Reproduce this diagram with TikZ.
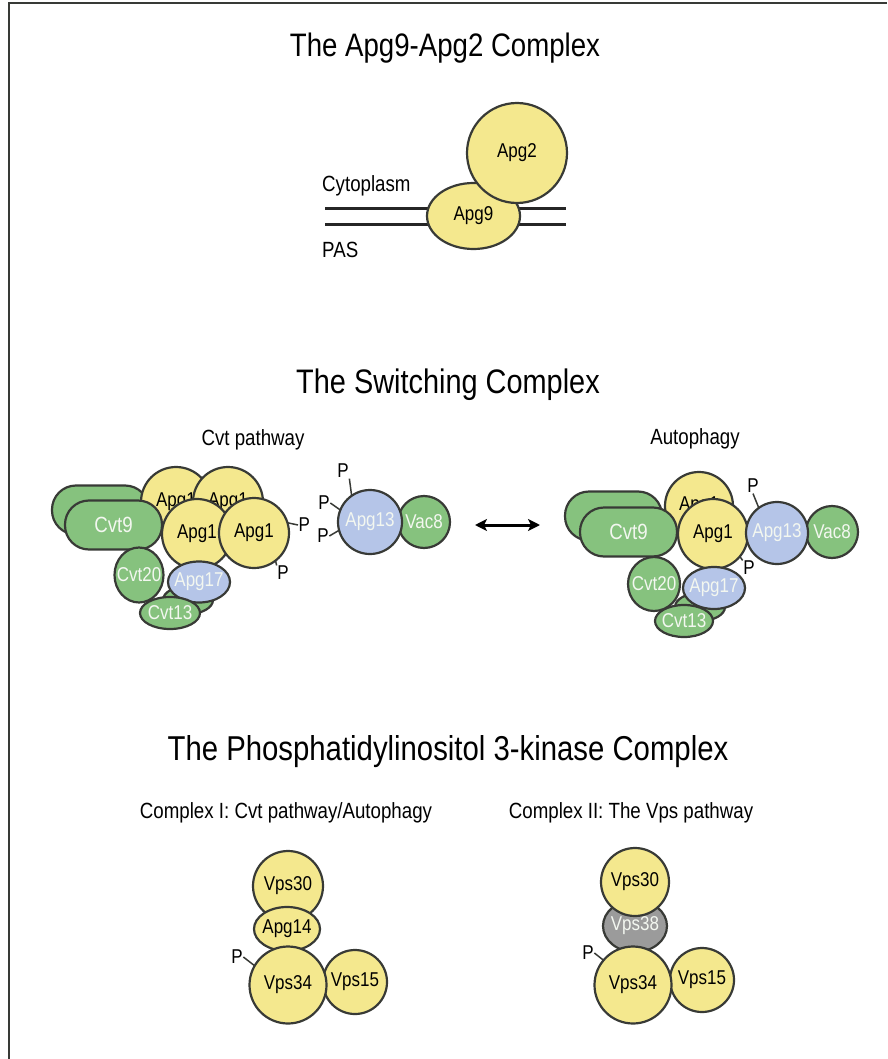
\documentclass[tikz,border=0pt]{standalone}
\usepackage{fontspec}
\setmainfont{Liberation Sans}[FakeStretch=0.85]
\usetikzlibrary{shapes.geometric,arrows.meta}
\definecolor{outline}{HTML}{383A36}
\definecolor{protyellow}{HTML}{F4E88E}
\definecolor{protgreen}{HTML}{86C27E}
\definecolor{protblue}{HTML}{B5C5E8}
\definecolor{protgray}{HTML}{9B9B9B}
\definecolor{paletext}{HTML}{F3F7F0}
\begin{document}
\begin{tikzpicture}[x=1pt,y=-1pt,
  prot/.style={draw=outline,line width=2.2pt,inner sep=0pt,outer sep=0pt},
  yel/.style={prot,fill=protyellow},
  grn/.style={prot,fill=protgreen},
  blu/.style={prot,fill=protblue},
  gry/.style={prot,fill=protgray},
  disc/.style={circle,minimum size=#1},
  oval/.style 2 args={ellipse,minimum width=#1,minimum height=#2},
  pill/.style={rectangle,rounded corners=24pt,minimum width=97pt,minimum height=49pt},
  darklab/.style={font=\fontsize{20}{20}\selectfont,text=black,inner sep=0pt},
  lightlab/.style={font=\fontsize{20}{20}\selectfont,text=paletext,inner sep=0pt},
  dark/.style={label={[darklab]center:#1}},
  light/.style={label={[lightlab]center:#1}},
  biglight/.style={label={[lightlab,font=\fontsize{22}{22}\selectfont]center:#1}},
  title/.style={font=\fontsize{32.5}{32.5}\selectfont,anchor=base,inner sep=0pt},
  caption/.style={font=\fontsize{22}{22}\selectfont,anchor=base,inner sep=0pt},
  phos/.style={font=\fontsize{20}{20}\selectfont,inner sep=0.5pt},
  plink/.style={draw=outline,line width=1.5pt},
  membrane/.style={draw=black!85,line width=3pt},
]
\useasboundingbox (0,0) rectangle (887,1059);
% frame along the top and left edges
\draw[outline,line width=2pt] (8.5,1059) -- (8.5,3.5) -- (887,3.5);

% ---------------- The Apg9-Apg2 complex ----------------
\node[title] (t1) at (445,57) {The Apg9-Apg2 Complex};
\coordinate (m1l) at (325,209); \coordinate (m1r) at (566,209);
\coordinate (m2l) at (325,225); \coordinate (m2r) at (566,225);
\draw[membrane] (m1l) -- (m1r);
\draw[membrane] (m2l) -- (m2r);
\node[caption,anchor=base west] (cyto) at (322,192) {Cytoplasm};
\node[caption,anchor=base west] (pas) at (322,257) {PAS};
\node[yel,oval={93pt}{66pt},dark=Apg9] (apg9) at (473.5,216) {};
\node[yel,disc=100pt,dark=Apg2] (apg2) at (517,153) {};

% ---------------- The switching complex ----------------
\node[title,font=\fontsize{34}{34}\selectfont] (t2) at (448,393) {The Switching Complex};
\node[caption] (cvtp) at (253,445) {Cvt pathway};
\node[caption] (auto) at (695,444) {Autophagy};

% Cvt pathway assembly
\node[grn,pill] (cvt9b) at (100.5,510) {};
\node[yel,disc=70pt,dark=Apg1] (a1a) at (176,502) {};
\node[yel,disc=70pt,dark=Apg1] (a1b) at (228,502) {};
\node[grn,pill,biglight=Cvt9] (cvt9) at (113.5,525) {};
\node[yel,disc=70pt,dark=Apg1] (a1c) at (197,534) {};
\node[yel,disc=70pt,dark=Apg1] (a1d) at (254,533) {};
\node[grn,oval={50pt}{28pt}] (cvt13b) at (188,600) {};
\node[grn,oval={49pt}{55pt},light=Cvt20] (cvt20) at (139,575) {};
\node[blu,oval={62pt}{41pt},light=Apg17] (apg17) at (199,582) {};
\node[grn,oval={60pt}{32pt},light=Cvt13] (cvt13) at (170,613) {};
\node[phos,anchor=west] (pa) at (298,525) {P};
\node[phos] (pb) at (283,573) {P};
\draw[plink] (a1d.17) -- (pa.west);
\node[grn,disc=52pt,light=Vac8] (vac8) at (424,522) {};
\node[blu,disc=64pt,light=Apg13] (apg13) at (370,522) {};
\node[phos] (pc) at (343,471) {P};
\node[phos] (pd) at (324,503) {P};
\node[phos] (pe) at (323,536) {P};
\draw[plink] (a1d.-52) -- (pb.north west);
\draw[plink] (apg13.125) -- (pc.south east);
\draw[plink] (apg13.158) -- (pd.east);
\draw[plink] (apg13.195) -- (pe.east);

% reversible switch
\coordinate (sw1) at (475,525); \coordinate (sw2) at (540,525);
\draw[line width=3pt,{Stealth[length=12pt,width=12pt,inset=3pt]}-{Stealth[length=12pt,width=12pt,inset=3pt]}] (sw1) -- (sw2);

% Autophagy assembly
\node[grn,pill] (rcvt9b) at (613.5,516) {};
\node[yel,disc=68pt,dark=Apg1] (ra1a) at (699,506) {};
\node[grn,pill,biglight=Cvt9] (rcvt9) at (628.5,532) {};
\node[yel,disc=70pt,dark=Apg1] (ra1b) at (713,534) {};
\node[grn,disc=52pt,light=Vac8] (rvac8) at (832,532) {};
\node[blu,disc=62pt,light=Apg13] (rapg13) at (777,533) {};
\node[phos] (pf) at (753,486) {P};
\node[phos] (pg) at (749,568) {P};
\draw[plink] (rapg13.126) -- (pf.south);
\draw[plink] (ra1b.-40) -- (pg.north west);
\node[grn,oval={50pt}{28pt}] (rcvt13b) at (700,607) {};
\node[grn,oval={52pt}{54pt},light=Cvt20] (rcvt20) at (654,584) {};
\node[blu,oval={62pt}{42pt},light=Apg17] (rapg17) at (714,588) {};
\node[grn,oval={58pt}{32pt},light=Cvt13] (rcvt13) at (684,621) {};

% ---------------- The PI 3-kinase complex ----------------
\node[title,font=\fontsize{34.5}{34.5}\selectfont] (t3) at (448,760) {The Phosphatidylinositol 3-kinase Complex};
\node[caption] (c1) at (286,818) {Complex I: Cvt pathway/Autophagy};
\node[caption] (c2) at (631,818) {Complex II: The Vps pathway};

% Complex I
\node[yel,disc=70pt,dark=Vps30] (v30) at (288,886) {};
\node[yel,oval={66pt}{44pt},dark=Apg14] (apg14) at (287,929) {};
\node[yel,disc=64pt,dark=Vps15] (v15) at (355,982) {};
\node[yel,disc=77pt,dark=Vps34] (v34) at (288,985) {};
\node[phos] (ph) at (237,957) {P};
\draw[plink] (v34.150) -- (ph.east);

% Complex II
\node[gry,oval={64pt}{52pt},light=Vps38] (v38) at (635,926) {};
\node[yel,disc=68pt,dark=Vps30] (w30) at (635,882) {};
\node[yel,disc=64pt,dark=Vps15] (w15) at (702,980) {};
\node[yel,disc=77pt,dark=Vps34] (w34) at (633,985) {};
\node[phos] (pi) at (588,953) {P};
\draw[plink] (w34.140) -- (pi.east);
\end{tikzpicture}
\end{document}
